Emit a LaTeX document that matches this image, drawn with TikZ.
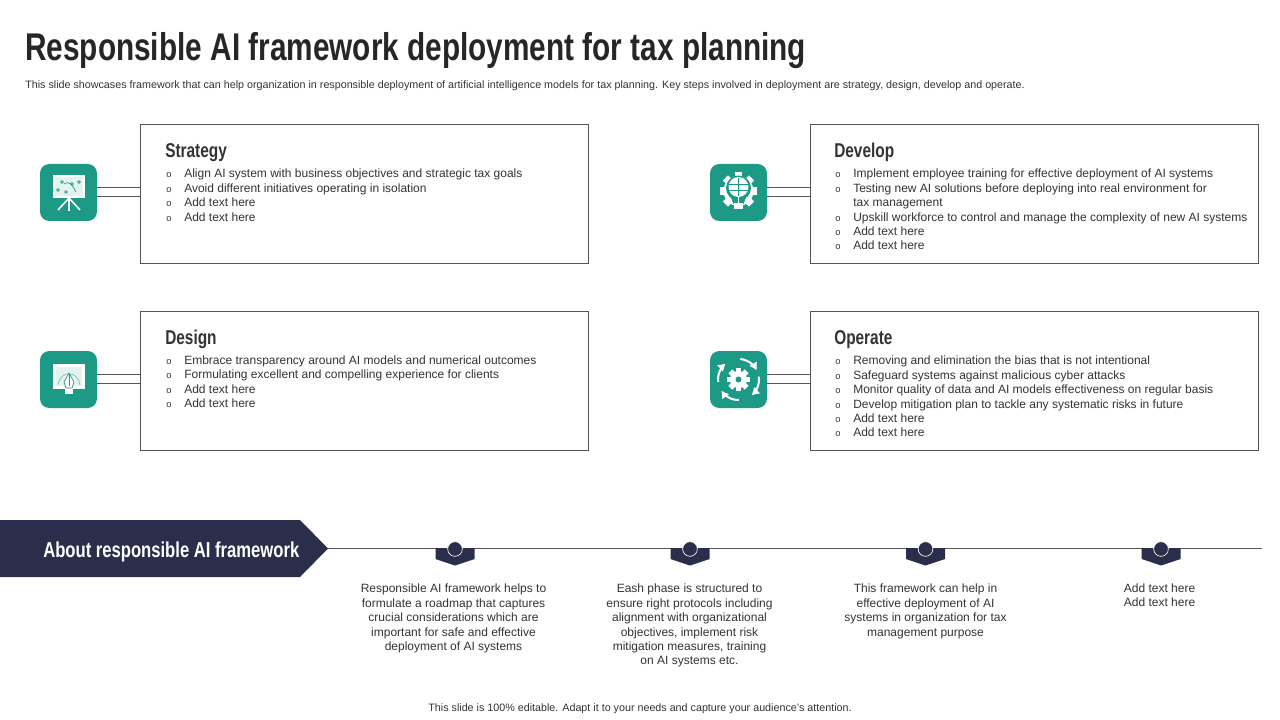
\documentclass[tikz,border=0pt]{standalone}
\usepackage{fontspec}
\setmainfont{Liberation Sans}
\newfontfamily\headfont[FakeStretch=0.77]{Liberation Sans}
\usetikzlibrary{arrows.meta,positioning}
\definecolor{tealbox}{HTML}{1D9A85}
\definecolor{navybar}{HTML}{2A2E4A}
\definecolor{edgegray}{HTML}{555555}
\definecolor{txtgray}{HTML}{333333}
\newcommand{\bul}{\makebox[13.5pt][l]{\fontsize{7}{8}\selectfont o}}
\begin{document}
\begin{tikzpicture}[
        x=0.75pt, y=-0.75pt,
        card/.style   = {draw=edgegray, line width=0.6pt, minimum width=336.2pt, minimum height=104.6pt, inner sep=0pt},
        badge/.style  = {fill=tealbox, rounded corners=7pt, minimum size=42.75pt, inner sep=0pt},
        wire/.style   = {draw=edgegray, line width=0.6pt},
        ttl/.style    = {anchor=west, inner sep=0pt, font=\headfont\bfseries\fontsize{15}{18}\selectfont, text=txtgray},
        items/.style  = {anchor=north west, inner sep=0pt, align=left, text=txtgray, font=\fontsize{9}{10.8}\selectfont},
        note/.style   = {anchor=north, inner sep=0pt, align=center, text=txtgray, font=\fontsize{9}{10.8}\selectfont},
        small/.style  = {inner sep=0pt, text=txtgray, font=\fontsize{8.05}{9}\selectfont},
        pindot/.style = {circle, fill=navybar, draw=white, line width=0.5pt, minimum size=11pt, inner sep=0pt},
        ink/.style    = {white, line width=0.7pt},
    ]
        \useasboundingbox (0,0) rectangle (1280,720);

        % ---- title and lines of small print ----
        \node (title) [anchor=base west, inner sep=0pt, text=black!85, font=\headfont\bfseries\fontsize{29}{34}\selectfont] at (25,61) {Responsible AI framework deployment for tax planning};
        \node (lead) [small, anchor=west] at (25,85.5) {This slide showcases framework that can help organization in responsible deployment of artificial intelligence models for tax planning. Key steps involved in deployment are strategy, design, develop and operate.};
        \node (foot) [small] at (640,708.5) {This slide is 100\% editable. Adapt it to your needs and capture your audience's attention.};

        % ---- cards and badges ----
        \node (cardS) [card] at (364.5,194) {};
        \node (cardG) [card] at (364.5,381) {};
        \node (cardD) [card] at (1034.5,194) {};
        \node (cardO) [card] at (1034.5,381) {};
        \node (iconS) [badge] at (68.5,192.5) {};
        \node (iconG) [badge] at (68.5,379.5) {};
        \node (iconD) [badge] at (738.5,192.5) {};
        \node (iconO) [badge] at (738.5,379.5) {};

        % ---- double wires ----
        \foreach \n in {S,G,D,O} {
            \draw[wire] ([yshift=3.9pt]icon\n.east) -- ([yshift=3.9pt]icon\n.east -| card\n.west);
            \draw[wire] ([yshift=-2.85pt]icon\n.east) -- ([yshift=-2.85pt]icon\n.east -| card\n.west);
        }

        % ---- card texts ----
        \node (headS) [ttl] at (165,152.5) {Strategy};
        \node (listS) [items] at (166,169) {\bul Align AI system with business objectives and strategic tax goals\\
            \bul Avoid different initiatives operating in isolation\\
            \bul Add text here\\
            \bul Add text here};
        \node (headG) [ttl] at (165,339.5) {Design};
        \node (listG) [items] at (166,355.5) {\bul Embrace transparency around AI models and numerical outcomes\\
            \bul Formulating excellent and compelling experience for clients\\
            \bul Add text here\\
            \bul Add text here};
        \node (headD) [ttl] at (834,152.5) {Develop};
        \node (listD) [items] at (835,169) {\bul Implement employee training for effective deployment of AI systems\\
            \bul Testing new AI solutions before deploying into real environment for\\
            \hspace*{13.5pt}tax management\\
            \bul Upskill workforce to control and manage the complexity of new AI systems\\
            \bul Add text here\\
            \bul Add text here};
        \node (headO) [ttl] at (834,339.5) {Operate};
        \node (listO) [items] at (835,356) {\bul Removing and elimination the bias that is not intentional\\
            \bul Safeguard systems against malicious cyber attacks\\
            \bul Monitor quality of data and AI models effectiveness on regular basis\\
            \bul Develop mitigation plan to tackle any systematic risks in future\\
            \bul Add text here\\
            \bul Add text here};

        % ---- icon: board on a tripod ----
        \fill[white] (53,175) rectangle (85,198);
        \fill[tealbox!12] (55,177) rectangle (83,196);
        \foreach \px/\py in {62/182, 79/182, 58/190, 66/192, 72/184} \draw[tealbox, line width=0.5pt] (\px,\py) circle (1.3);
        \draw[tealbox, line width=0.5pt] (64,184) .. controls (70,180) and (73,186) .. (76,192);
        \draw[ink, line width=1.2pt] (69,198) -- (58,210) (69,198) -- (69,211) (69,198) -- (80,210);

        % ---- icon: blueprint with pen ----
        \fill[white] (53,364) -- (85,364) -- (85,389) -- (53,389) -- cycle;
        \fill[tealbox!12] (56,367) rectangle (82,386);
        \draw[tealbox!70, line width=0.4pt] (58,385) .. controls (60,370) and (78,370) .. (80,385);
        \fill[white, draw=tealbox, line width=0.5pt] (69,373) -- (74,382) -- (72,388) -- (66,388) -- (64,382) -- cycle;
        \draw[tealbox, line width=0.5pt] (69,374) -- (69,386);
        \fill[white] (65,389) rectangle (73,394);

        % ---- icon: gear with bulb ----
        \foreach \a in {0,45,...,315} \draw[white, line width=5.5pt] (738.5,191) ++(\a:12) -- ++(\a:6.5);
        \fill[white] (738.5,191) circle (15);
        \fill[tealbox] (738.5,188) circle (12.5);
        \fill[tealbox] (730,195) -- (747,195) -- (743.5,204) -- (733.5,204) -- cycle;
        \fill[white] (738.5,187) circle (10);
        \draw[tealbox, line width=0.4pt] (738.5,178) -- (738.5,196) (729,184) -- (748,184) (729,190) -- (748,190);
        \fill[white] (734,203) rectangle (743,209);
        \draw[white, line width=0.7pt] (738.5,196) -- (738.5,203);

        % ---- icon: gear with four round arrows ----
        \foreach \a in {0,45,...,315} \draw[white, line width=4pt] (738.5,379.5) ++(\a:7) -- ++(\a:4.5);
        \fill[white] (738.5,379.5) circle (8.5);
        \fill[tealbox] (738.5,379.5) circle (3);
        \foreach \a in {-27,50,147,231}
            \draw[white, line width=1.5pt, -{Latex[length=5.5pt,width=7pt]}] plot[smooth, variable=\t, domain=\a-58:\a, samples=8] ({738.5+20.5*cos(\t)},{379.5+20.5*sin(\t)});

        % ---- banner and time line ----
        \fill[navybar] (0,520) -- (300,520) -- (328,548.5) -- (300,577) -- (0,577) -- cycle;
        \coordinate (tip) at (328,548);
        \coordinate (lineEnd) at (1262,548);
        \node (about) [anchor=west, inner sep=0pt, text=white, font=\headfont\bfseries\fontsize{16.2}{20}\selectfont] at (43,551.5) {About responsible AI framework};
        \draw[wire] (tip) -- (lineEnd);

        % ---- pins on the line ----
        \foreach \n/\x in {A/455, B/690, C/925.5, E/1161} {
            \fill[navybar] (\x-19.5,548) -- (\x+19.5,548) -- (\x+19.5,559) -- (\x,565.5) -- (\x-19.5,559) -- cycle;
            \node (pin\n) [pindot] at (\x,549) {};
        }

        % ---- texts below the pins ----
        \node (noteA) [note] at (453.5,584) {Responsible AI framework helps to\\ formulate a roadmap that captures\\ crucial considerations which are\\ important for safe and effective\\ deployment of AI systems};
        \node (noteB) [note] at (689.5,584) {Eash phase is structured to\\ ensure right protocols including\\ alignment with organizational\\ objectives, implement risk\\ mitigation measures, training\\ on AI systems etc.};
        \node (noteC) [note] at (925.5,584) {This framework can help in\\ effective deployment of AI\\ systems in organization for tax\\ management purpose};
        \node (noteE) [note] at (1159.5,583.5) {Add text here\\ Add text here};
    \end{tikzpicture}
\end{document}
